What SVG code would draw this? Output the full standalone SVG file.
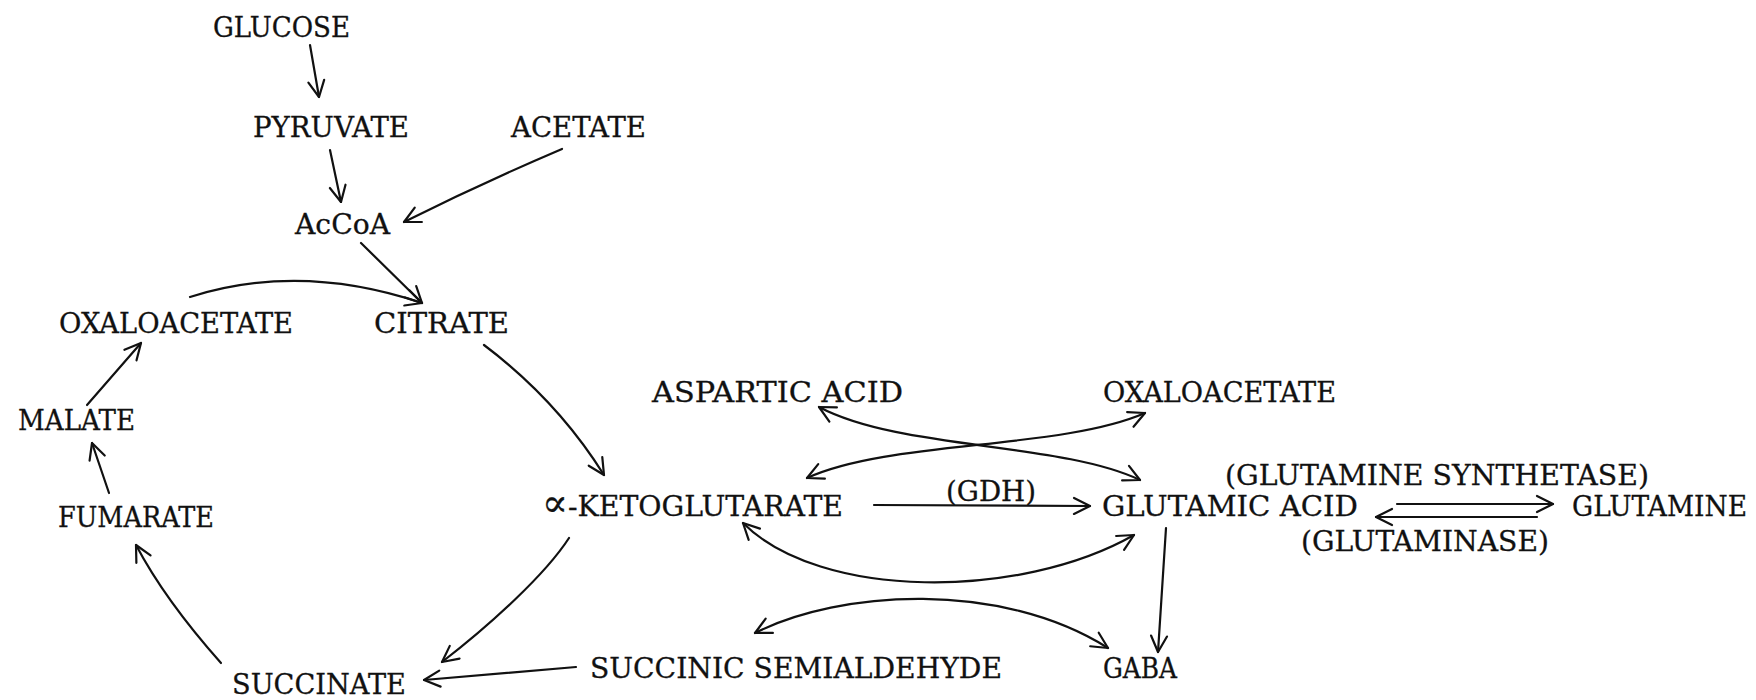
<svg xmlns="http://www.w3.org/2000/svg" width="1756" height="700" viewBox="0 0 1756 700">
<style>
text{font-family:"DejaVu Serif","Liberation Serif",serif;font-size:28px;fill:#111;stroke:#111;stroke-width:0.3;}
.c{fill:none;stroke:#111;stroke-width:2.2;stroke-linecap:round;}
</style>
<defs>
<marker id="ah" markerUnits="userSpaceOnUse" markerWidth="40" markerHeight="40" refX="0" refY="0" orient="auto-start-reverse" overflow="visible">
<path d="M-16,-8 L0,0 L-16,8" fill="none" stroke="#111" stroke-width="2.2" stroke-linecap="round" stroke-linejoin="round"/>
</marker>
</defs>
<rect width="1756" height="700" fill="#fff"/>
<g id="n-glucose"><text x="213" y="37" textLength="137" lengthAdjust="spacingAndGlyphs">GLUCOSE</text></g>
<g id="n-pyruvate"><text x="253" y="137" textLength="156" lengthAdjust="spacingAndGlyphs">PYRUVATE</text></g>
<g id="n-acetate"><text x="511" y="137" textLength="135" lengthAdjust="spacingAndGlyphs">ACETATE</text></g>
<g id="n-accoa"><text x="295" y="234" textLength="95" lengthAdjust="spacingAndGlyphs">AcCoA</text></g>
<g id="n-oxaloacetate1"><text x="59" y="333" textLength="234" lengthAdjust="spacingAndGlyphs">OXALOACETATE</text></g>
<g id="n-citrate"><text x="374" y="333" textLength="135" lengthAdjust="spacingAndGlyphs">CITRATE</text></g>
<g id="n-malate"><text x="18" y="430" textLength="117" lengthAdjust="spacingAndGlyphs">MALATE</text></g>
<g id="n-fumarate"><text x="58" y="527" textLength="156" lengthAdjust="spacingAndGlyphs">FUMARATE</text></g>
<g id="n-succinate"><text x="232" y="694" textLength="174" lengthAdjust="spacingAndGlyphs">SUCCINATE</text></g>
<g id="n-akg"><text x="542" y="516" textLength="301" lengthAdjust="spacingAndGlyphs"><tspan font-size="38">∝</tspan>-KETOGLUTARATE</text></g>
<g id="n-aspartic"><text x="652" y="402" textLength="251" lengthAdjust="spacingAndGlyphs">ASPARTIC ACID</text></g>
<g id="n-oxaloacetate2"><text x="1103" y="402" textLength="233" lengthAdjust="spacingAndGlyphs">OXALOACETATE</text></g>
<g id="n-glutamic"><text x="1102" y="516" textLength="256" lengthAdjust="spacingAndGlyphs">GLUTAMIC ACID</text></g>
<g id="n-glutamine"><text x="1572" y="516" textLength="175" lengthAdjust="spacingAndGlyphs">GLUTAMINE</text></g>
<g id="n-ssa"><text x="590" y="678" textLength="412" lengthAdjust="spacingAndGlyphs">SUCCINIC SEMIALDEHYDE</text></g>
<g id="n-gaba"><text x="1103" y="678" textLength="74" lengthAdjust="spacingAndGlyphs">GABA</text></g>
<g id="connectors">
<path class="c" marker-end="url(#ah)" d="M310,45 L319,97"/>
<path class="c" marker-end="url(#ah)" d="M330,150 L341,202"/>
<path class="c" marker-end="url(#ah)" d="M562,149 Q480,184 404,222"/>
<path class="c" marker-end="url(#ah)" d="M361,243 L422,303"/>
<path class="c" marker-end="url(#ah)" d="M190,297 Q300,262 422,303"/>
<path class="c" marker-end="url(#ah)" d="M484,345 Q557,400 604,475"/>
<path class="c" marker-end="url(#ah)" d="M569,538 C545,575 490,625 442,662"/>
<path class="c" marker-end="url(#ah)" d="M576,667 L424,680"/>
<path class="c" marker-end="url(#ah)" d="M221,663 Q165,600 136,545"/>
<path class="c" marker-end="url(#ah)" d="M109,493 L92,443"/>
<path class="c" marker-end="url(#ah)" d="M87,405 L141,343"/>
<path class="c" marker-end="url(#ah)" d="M874,505 L1090,506"/>
<text x="946" y="501" textLength="90" lengthAdjust="spacingAndGlyphs">(GDH)</text>
<path class="c" marker-start="url(#ah)" marker-end="url(#ah)" d="M819,407 C900,450 1060,442 1140,480"/>
<path class="c" marker-start="url(#ah)" marker-end="url(#ah)" d="M807,478 C890,440 1060,450 1145,413"/>
<path class="c" marker-start="url(#ah)" marker-end="url(#ah)" d="M743,523 C820,600 1020,600 1134,535"/>
<path class="c" marker-start="url(#ah)" marker-end="url(#ah)" d="M755,633 C840,590 1000,580 1108,648"/>
<path class="c" marker-end="url(#ah)" d="M1166,528 L1158,652"/>
<path class="c" marker-end="url(#ah)" d="M1397,504 L1553,504"/>
<path class="c" marker-end="url(#ah)" d="M1537,517 L1376,517"/>
<text x="1225" y="485" textLength="424" lengthAdjust="spacingAndGlyphs">(GLUTAMINE SYNTHETASE)</text>
<text x="1301" y="551" textLength="248" lengthAdjust="spacingAndGlyphs">(GLUTAMINASE)</text>
</g>
</svg>
